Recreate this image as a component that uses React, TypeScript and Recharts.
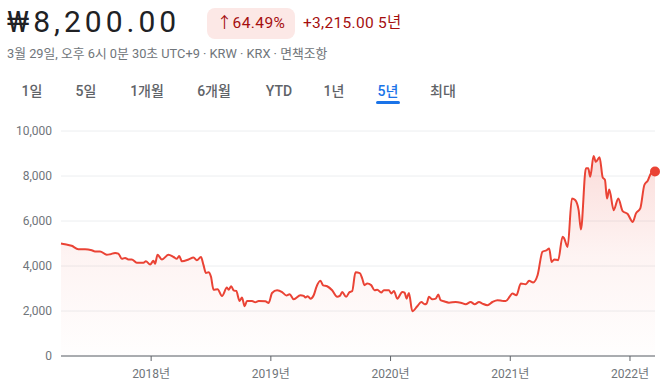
import { ComposedChart, Area, XAxis, YAxis, CartesianGrid, ReferenceDot } from "recharts";

// decimal year of each sample
const dates = [
  2017.247, 2017.28, 2017.336, 2017.392, 2017.448, 2017.504, 2017.531, 2017.573, 2017.629, 2017.657,
  2017.699, 2017.726, 2017.755, 2017.782, 2017.81, 2017.838, 2017.88, 2017.936, 2017.956, 2017.992,
  2018.019, 2018.033, 2018.053, 2018.09, 2018.145, 2018.187, 2018.215, 2018.234, 2018.257, 2018.312,
  2018.354, 2018.382, 2018.416, 2018.437, 2018.458, 2018.479, 2018.5, 2018.521, 2018.555, 2018.592,
  2018.633, 2018.647, 2018.669, 2018.689, 2018.711, 2018.739, 2018.759, 2018.767, 2018.781, 2018.801,
  2018.843, 2018.87, 2018.898, 2018.954, 2018.982, 2019.01, 2019.052, 2019.094, 2019.13, 2019.157,
  2019.191, 2019.247, 2019.274, 2019.289, 2019.308, 2019.331, 2019.358, 2019.381, 2019.414, 2019.437,
  2019.47, 2019.512, 2019.554, 2019.576, 2019.596, 2019.629, 2019.657, 2019.679, 2019.707, 2019.743,
  2019.763, 2019.782, 2019.805, 2019.838, 2019.866, 2019.889, 2019.922, 2019.944, 2019.986, 2020.006,
  2020.028, 2020.056, 2020.098, 2020.117, 2020.134, 2020.153, 2020.182, 2020.223, 2020.257, 2020.285,
  2020.301, 2020.321, 2020.349, 2020.377, 2020.399, 2020.418, 2020.446, 2020.488, 2020.544, 2020.586,
  2020.628, 2020.669, 2020.703, 2020.739, 2020.767, 2020.809, 2020.851, 2020.893, 2020.935, 2020.962,
  2020.998, 2021.018, 2021.051, 2021.088, 2021.13, 2021.157, 2021.191, 2021.228, 2021.269, 2021.303,
  2021.325, 2021.345, 2021.367, 2021.4, 2021.437, 2021.45, 2021.479, 2021.515, 2021.542, 2021.571,
  2021.59, 2021.632, 2021.651, 2021.668, 2021.696, 2021.715, 2021.746, 2021.772, 2021.791, 2021.808,
  2021.827, 2021.864, 2021.902, 2021.939, 2021.981, 2022.023, 2022.05, 2022.086, 2022.12, 2022.148,
  2022.176, 2022.209,
];

const prices = [
  5000, 4970, 4900, 4750, 4750, 4700, 4650, 4650, 4500, 4520,
  4580, 4550, 4320, 4360, 4290, 4290, 4150, 4150, 4210, 4070,
  4230, 4100, 4500, 4290, 4500, 4400, 4320, 4450, 4210, 4290,
  4380, 4260, 4400, 4050, 3690, 3720, 3520, 2950, 2970, 2670,
  3040, 2950, 3100, 2920, 2890, 2450, 2600, 2470, 2210, 2450,
  2450, 2390, 2450, 2430, 2360, 2800, 2920, 2840, 2690, 2750,
  2520, 2700, 2670, 2600, 2660, 2550, 2700, 3070, 3340, 3140,
  3100, 2920, 2630, 2670, 2840, 2630, 2840, 2880, 3720, 3680,
  3450, 3150, 3220, 3150, 2920, 2950, 2820, 2920, 2920, 2780,
  2890, 2550, 2850, 2820, 2550, 2800, 1990, 2210, 2400, 2300,
  2330, 2630, 2520, 2550, 2730, 2480, 2430, 2370, 2400, 2370,
  2300, 2400, 2300, 2400, 2330, 2260, 2400, 2480, 2450, 2440,
  2660, 2780, 2700, 3220, 3190, 3340, 3270, 3590, 4630, 4700,
  4780, 4180, 4290, 4260, 5300, 5230, 4850, 7000, 6930, 6480,
  5620, 8340, 8340, 7970, 8890, 8630, 8830, 7940, 7830, 7000,
  7400, 6480, 7000, 6440, 6310, 5960, 6340, 6560, 7600, 7790,
  8120, 8200,
];

const yTicks = [0, 2000, 4000, 6000, 8000, 10000];
const yearTicks = [2018, 2019, 2020, 2021, 2022];
const tabs = ["1일", "5일", "1개월", "6개월", "YTD", "1년", "5년", "최대"];
const tabCenters = [32, 86, 147, 214, 279, 334, 388, 443];

const data = dates.map((t, i) => ({ t, price: prices[i] }));

const FONT = "Roboto, 'Noto Sans CJK KR', sans-serif";
const RED = "#ea4335";

const App = () => {
  const lastT = dates[dates.length - 1];
  const lastP = prices[prices.length - 1];
  return (
    <div style={{ position: "absolute", left: 0, top: 0, width: 664, height: 391, background: "#fff", fontFamily: FONT }}>
      <div style={{ position: "absolute", left: 7, top: 4, fontSize: 30, letterSpacing: 4, color: "#202124", lineHeight: "36px" }}>
        ₩8,200.00
      </div>
      <div
        style={{
          position: "absolute", left: 207, top: 8, width: 88, height: 31, borderRadius: 8,
          background: "#fce8e6", color: "#a50e0e", fontSize: 15.5, lineHeight: "31px", textAlign: "center",
          letterSpacing: 0.4,
        }}
      >
        ↑64.49%
      </div>
      <div style={{ position: "absolute", left: 303, top: 8, fontSize: 15.5, lineHeight: "31px", color: "#a50e0e", letterSpacing: 0.3 }}>
        +3,215.00 5년
      </div>
      <div style={{ position: "absolute", left: 7, top: 46, fontSize: 12.8, color: "#70757a", lineHeight: "16px" }}>
        3월 29일, 오후 6시 0분 30초 UTC+9 · KRW · KRX · 면책조항
      </div>
      {tabs.map((label, i) => (
        <div
          key={label}
          style={{
            position: "absolute", left: tabCenters[i], top: 82, transform: "translateX(-50%)",
            fontSize: 14, fontWeight: 500, lineHeight: "18px", whiteSpace: "nowrap",
            color: label === "5년" ? "#1a73e8" : "#5f6368",
          }}
        >
          {label}
        </div>
      ))}
      <div style={{ position: "absolute", left: 376, top: 101, width: 24, height: 3, borderRadius: 2, background: "#1a73e8" }} />

      <div style={{ position: "absolute", left: 0, top: 0 }}>
        <ComposedChart width={664} height={391} data={data} margin={{ top: 131, right: 9, bottom: 0, left: 0 }}>
          <defs>
            <linearGradient id="fillRed" x1="0" y1="0" x2="0" y2="1">
              <stop offset="0%" stopColor={RED} stopOpacity={0.3} />
              <stop offset="50%" stopColor={RED} stopOpacity={0.1} />
              <stop offset="100%" stopColor={RED} stopOpacity={0.01} />
            </linearGradient>
          </defs>
          <CartesianGrid vertical={false} stroke="#eceef0" />
          <XAxis
            dataKey="t"
            type="number"
            domain={[dates[0], lastT]}
            ticks={yearTicks}
            tickFormatter={(v: number) => `${v}년`}
            height={35}
            stroke="#5f6368"
            tickSize={5}
            tickMargin={8}
            tick={{ fill: "#70757a", fontSize: 12, fontFamily: FONT }}
          />
          <YAxis
            domain={[0, 10000]}
            ticks={yTicks}
            width={61}
            axisLine={false}
            tickLine={false}
            tickSize={0}
            tickMargin={9}
            tickFormatter={(v: number) => v.toLocaleString("en-US")}
            tick={{ fill: "#70757a", fontSize: 12, fontFamily: FONT }}
          />
          <Area
            type="monotone"
            dataKey="price"
            stroke={RED}
            strokeWidth={2}
            fill="url(#fillRed)"
            isAnimationActive={false}
            dot={false}
            activeDot={false}
          />
          <ReferenceDot x={lastT} y={lastP} r={5} fill={RED} stroke="none" />
        </ComposedChart>
      </div>
    </div>
  );
};

export default App;
